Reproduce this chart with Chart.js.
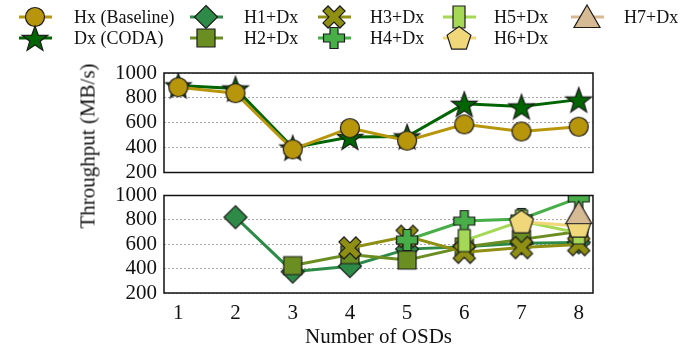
<!DOCTYPE html>
<html lang="en">
<head>
<meta charset="UTF-8">
<title>Throughput vs Number of OSDs</title>
<script src="https://cdn.jsdelivr.net/npm/chart.js"></script>
<style>
  body { margin: 0; width: 689px; height: 352px; position: relative; background: #fff; overflow: hidden; }
  canvas { position: absolute; left: 0; }
  #topChart { top: 0; }
  #bottomChart { top: 178px; }
  #ytitle { position: absolute; left: 88px; top: 146px; transform: translate(-50%, -50%) rotate(-90deg);
            font: 21px "Liberation Serif", serif; white-space: nowrap; color: #111; }
</style>
</head>
<body>
<canvas id="topChart" width="689" height="190"></canvas>
<canvas id="bottomChart" width="689" height="174"></canvas>
<div id="ytitle">Throughput (MB/s)</div>
<script>
  // values (MB/s), one slot per OSD count
  const osds = [1, 2, 3, 4, 5, 6, 7, 8];
  const hxBaseline = [886, 838, 386, 557, 456, 587, 530, 568];
  const dxCoda     = [900, 875, 400, 485, 490, 752, 731, 786];
  const h1Dx = [null, 822, 375, 420, 560, 580, 608, 615];
  const h2Dx = [null, null, 425, 515, 470, 578, 640, 705];
  const h3Dx = [null, null, null, 570, 665, 534, 573, 597];
  const h4Dx = [null, null, null, null, 635, 790, 808, 980];
  const h5Dx = [null, null, null, null, null, 630, 790, 693];
  const h6Dx = [null, null, null, null, null, null, 785, 750];
  const h7Dx = [null, null, null, null, null, null, null, 855];
  const yTicks = [200, 400, 600, 800, 1000];

  const FONT = '"Liberation Serif", "Times New Roman", serif';

  // marker shapes, drawn once into small canvases
  function marker(w, h, fill, path) {
    const c = document.createElement('canvas');
    c.width = w; c.height = h;
    const g = c.getContext('2d');
    g.translate(w / 2, h / 2);
    g.beginPath();
    path(g);
    g.closePath();
    g.fillStyle = fill;
    g.fill();
    g.lineWidth = 1.2;
    g.strokeStyle = '#1c1c1c';
    g.stroke();
    return c;
  }
  function poly(g, pts) {
    pts.forEach((p, i) => i ? g.lineTo(p[0], p[1]) : g.moveTo(p[0], p[1]));
  }
  function plusPts(s, a, rot) {
    const raw = [[-a,-s],[a,-s],[a,-a],[s,-a],[s,a],[a,a],[a,s],[-a,s],[-a,a],[-s,a],[-s,-a],[-a,-a]];
    const c = Math.cos(rot), sn = Math.sin(rot);
    return raw.map(p => [p[0] * c - p[1] * sn, p[0] * sn + p[1] * c]);
  }
  function starPts(R, r) {
    const pts = [];
    for (let i = 0; i < 10; i++) {
      const ang = -Math.PI / 2 + i * Math.PI / 5;
      const rad = i % 2 ? r : R;
      pts.push([rad * Math.cos(ang), rad * Math.sin(ang) + 1.5]);
    }
    return pts;
  }
  function ngonPts(n, R, dy) {
    const pts = [];
    for (let i = 0; i < n; i++) {
      const ang = -Math.PI / 2 + i * 2 * Math.PI / n;
      pts.push([R * Math.cos(ang), R * Math.sin(ang) + dy]);
    }
    return pts;
  }

  const colors = {
    hx: '#b8960c', dx: '#006400', h1: '#2e8b47', h2: '#6b8e23', h3: '#8f8f14',
    h4: '#48ae48', h5: '#a5d955', h6: '#efd77a', h7: '#d6ba94'
  };

  const markers = {
    hx: marker(22, 22, colors.hx, g => g.arc(0, 0, 9.5, 0, Math.PI * 2)),
    dx: marker(30, 30, colors.dx, g => poly(g, starPts(13.5, 5.5))),
    h1: marker(26, 26, colors.h1, g => poly(g, [[0,-11.5],[11.5,0],[0,11.5],[-11.5,0]])),
    h2: marker(22, 22, colors.h2, g => g.rect(-9, -9, 18, 18)),
    h3: marker(26, 26, colors.h3, g => poly(g, plusPts(12, 3.6, Math.PI / 4))),
    h4: marker(24, 24, colors.h4, g => poly(g, plusPts(10.5, 4, 0))),
    h5: marker(16, 26, colors.h5, g => g.rect(-6, -11, 12, 22)),
    h6: marker(28, 28, colors.h6, g => poly(g, ngonPts(5, 12.5, 1))),
    h7: marker(30, 30, colors.h7, g => poly(g, ngonPts(3, 15, 3)))
  };

  function series(label, key, values, order) {
    return {
      label: label,
      data: osds.map((x, i) => ({ x: x, y: values[i] })).filter(p => p.y !== null),
      borderColor: colors[key],
      backgroundColor: colors[key],
      borderWidth: 3,
      pointStyle: markers[key],
      pointRadius: 10,
      tension: 0,
      order: order
    };
  }

  // black frame around each plot area
  const frame = {
    id: 'frame',
    afterDraw(chart) {
      const a = chart.chartArea, ctx = chart.ctx;
      ctx.save();
      ctx.strokeStyle = '#111';
      ctx.lineWidth = 1.5;
      ctx.strokeRect(a.left, a.top, a.right - a.left, a.bottom - a.top);
      ctx.restore();
    }
  };

  // legend: 2 rows x 5 columns, column-major like the reference
  const legendNames = ['Hx (Baseline)', 'Dx (CODA)', 'H1+Dx', 'H2+Dx', 'H3+Dx', 'H4+Dx', 'H5+Dx', 'H6+Dx', 'H7+Dx'];
  const legendKeys = ['hx', 'dx', 'h1', 'h2', 'h3', 'h4', 'h5', 'h6', 'h7'];
  const legendCols = [35, 206, 334, 459, 587];
  const legendText = [74, 244, 370, 494, 624];
  const legendRows = [17, 38];
  const legendPlugin = {
    id: 'osdLegend',
    afterDraw(chart) {
      const ctx = chart.ctx;
      ctx.save();
      ctx.font = '18px ' + FONT;
      ctx.textBaseline = 'middle';
      ctx.fillStyle = '#111';
      legendNames.forEach((name, i) => {
        const col = Math.floor(i / 2), row = i % 2;
        const cx = legendCols[col], cy = legendRows[row];
        const key = legendKeys[i];
        ctx.strokeStyle = colors[key];
        ctx.lineWidth = 3;
        ctx.beginPath();
        ctx.moveTo(cx - 16, cy);
        ctx.lineTo(cx + 17, cy);
        ctx.stroke();
        const m = markers[key];
        ctx.drawImage(m, cx - m.width / 2, cy - m.height / 2);
        ctx.fillText(name, legendText[col], cy + 1);
      });
      ctx.restore();
    }
  };

  function yScale() {
    return {
      min: 200, max: 1000,
      afterBuildTicks: s => { s.ticks = yTicks.map(v => ({ value: v })); },
      afterFit: s => { s.width = 164; },
      ticks: { color: '#111', padding: 7, autoSkip: false, callback: v => String(v),
               font: { family: FONT, size: 21, lineHeight: 1 } },
      grid: { color: '#a8a8a8', lineWidth: 1, drawTicks: false },
      border: { display: false, dash: [2, 2] }
    };
  }

  function xScale(show) {
    const s = {
      type: 'linear', min: 0.75, max: 8.25,
      display: show,
      afterBuildTicks: sc => { sc.ticks = osds.map(v => ({ value: v })); },
      ticks: { color: '#111', padding: 0, autoSkip: false, callback: v => String(v),
               font: { family: FONT, size: 21 } },
      grid: { display: false },
      border: { display: false },
      title: { display: true, text: 'Number of OSDs', color: '#111', padding: { top: 0, bottom: 2 },
               font: { family: FONT, size: 21 } }
    };
    if (show) s.afterFit = sc => { sc.height = 59; };
    return s;
  }

  const common = {
    responsive: false,
    animation: false,
    plugins: { legend: { display: false }, tooltip: { enabled: false } }
  };

  new Chart(document.getElementById('topChart'), {
    type: 'line',
    data: { datasets: [
      series('Hx (Baseline)', 'hx', hxBaseline, 0),
      series('Dx (CODA)', 'dx', dxCoda, 1)
    ] },
    options: Object.assign({}, common, {
      layout: { padding: { left: 0, right: 96, top: 73, bottom: 16 } },
      scales: { x: xScale(false), y: yScale() }
    }),
    plugins: [frame, legendPlugin]
  });

  new Chart(document.getElementById('bottomChart'), {
    type: 'line',
    data: { datasets: [
      series('H1+Dx', 'h1', h1Dx, 7),
      series('H2+Dx', 'h2', h2Dx, 6),
      series('H3+Dx', 'h3', h3Dx, 5),
      series('H4+Dx', 'h4', h4Dx, 4),
      series('H5+Dx', 'h5', h5Dx, 3),
      series('H6+Dx', 'h6', h6Dx, 2),
      series('H7+Dx', 'h7', h7Dx, 1)
    ] },
    options: Object.assign({}, common, {
      layout: { padding: { left: 0, right: 96, top: 14, bottom: 0 } },
      scales: { x: xScale(true), y: yScale() }
    }),
    plugins: [frame]
  });
</script>
</body>
</html>
